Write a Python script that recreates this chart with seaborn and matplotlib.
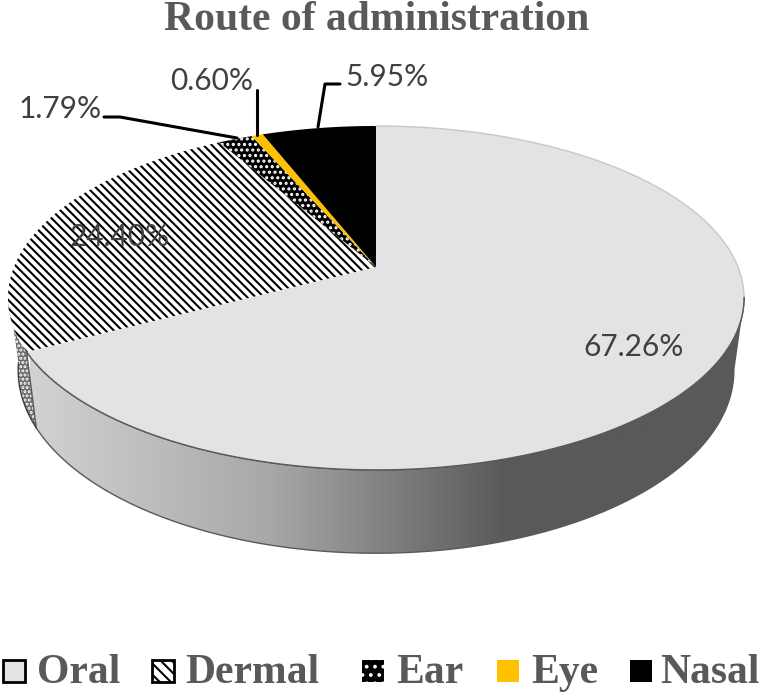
import numpy as np
import seaborn as sns
import matplotlib.pyplot as plt
from matplotlib.patches import Polygon, Rectangle

routes = ['Oral', 'Dermal', 'Ear', 'Eye', 'Nasal']
shares = [67.26, 24.40, 1.79, 0.60, 5.95]
fills = ['#E4E2E2', 'white', 'black', '#FFC000', 'black']
edges = ['black', 'black', 'white', 'black', 'black']
hatches = [None, '\\\\\\\\', '...', None, None]

sns.set_theme(style='white')
plt.rcParams['font.family'] = ['Liberation Serif', 'DejaVu Serif']
plt.rcParams['hatch.linewidth'] = 1.5

fig = plt.figure(figsize=(7.62, 6.95), dpi=100)
ax = fig.add_axes([0, 0, 1, 1])

# pie is tilted, so project the unit circle onto pixel positions
CX, CY, K = 376, 267, 0.18


def project(theta, w=362, h=166.4, drop=0):
    t = np.radians(theta)
    d = 1 + K * np.cos(t)
    return np.column_stack([CX + w * np.sin(t) / d, CY + drop - h * np.cos(t) / d])


def top_arc(a, b):
    return project(np.linspace(a, b, 200))


def low_arc(a, b):
    return project(np.linspace(a, b, 200), w=352, h=176.8, drop=70.6)


# slice angles, clockwise from 12 o'clock
ends = np.cumsum(shares) * 3.6
starts = ends - np.array(shares) * 3.6

# side wall: oral part with gradient, dermal part dotted
wall_start = 100
oral_wall = np.vstack([top_arc(wall_start, ends[0]), low_arc(wall_start, ends[0])[::-1]])
poly = Polygon(oral_wall, closed=True, facecolor='none', edgecolor='#595959', lw=1, zorder=1.5)
ax.add_patch(poly)
shade = sns.blend_palette(['#D2D2D2', '#A8A8A8', '#595959', '#595959'], as_cmap=True)
img = ax.imshow(np.linspace(0, 1, 256)[None, :], extent=[30, 745, 560, 300], cmap=shade,
                aspect='auto', zorder=1)
img.set_clip_path(poly)

side = np.vstack([top_arc(ends[0], 262), low_arc(ends[0], 262)[::-1]])
ax.add_patch(Polygon(side, closed=True, facecolor='#6A6A6A', edgecolor='white',
                     hatch='....', lw=0, zorder=1))
ax.plot(*low_arc(ends[0], 262).T, color='#404040', lw=1, zorder=1.5)

# top face
for a, b, fc, ec, h in zip(starts, ends, fills, edges, hatches):
    pts = np.vstack([[CX, CY], top_arc(a, b)])
    ax.add_patch(Polygon(pts, closed=True, facecolor=fc, edgecolor=ec, hatch=h, lw=0, zorder=2))
ax.plot(*top_arc(wall_start, ends[0]).T, color='#595959', lw=1, zorder=3)
ax.plot(*top_arc(0, wall_start).T, color='#C8C8C8', lw=1, zorder=3)

# leader lines
ax.plot([104, 120, 237], [117, 117, 138], color='black', lw=2.2, zorder=4)
ax.plot([257, 257], [90, 135], color='black', lw=2.2, zorder=4)
ax.plot([340, 325, 318], [84, 84, 127], color='black', lw=2.2, zorder=4)

# data labels
label_xy = [(634, 347), (120, 237), (60, 109), (212, 81), (387, 77)]
for v, (x, y) in zip(shares, label_xy):
    ax.text(x, y, f'{v:.2f}%', ha='center', va='center', fontsize=21.5, color='#404040',
            family=['Lato', 'DejaVu Sans'], zorder=5)

ax.text(377, 20, 'Route of administration', ha='center', va='center', fontsize=30,
        fontweight='bold', color='#595959')

# legend row, spacing in the original is uneven so it is placed by hand
swatch_x = [3, 152, 362, 497, 630]
text_x = [37, 185, 396, 531, 660]
swatch_hatch = [None, '\\\\\\', '..', None, None]
for r, fc, ec, h, sx, tx in zip(routes, fills, edges, swatch_hatch, swatch_x, text_x):
    ax.add_patch(Rectangle((sx, 660), 22, 22, facecolor=fc, edgecolor=ec, zorder=2, hatch=h,
                           lw=0 if r in ('Ear', 'Eye', 'Nasal') else 2))
    ax.text(tx, 683, r, ha='left', va='baseline', fontsize=30, fontweight='bold', color='#595959')

ax.set_xlim(0, 762)
ax.set_ylim(695, 0)
ax.axis('off')
fig.savefig('out.png', dpi=100)
